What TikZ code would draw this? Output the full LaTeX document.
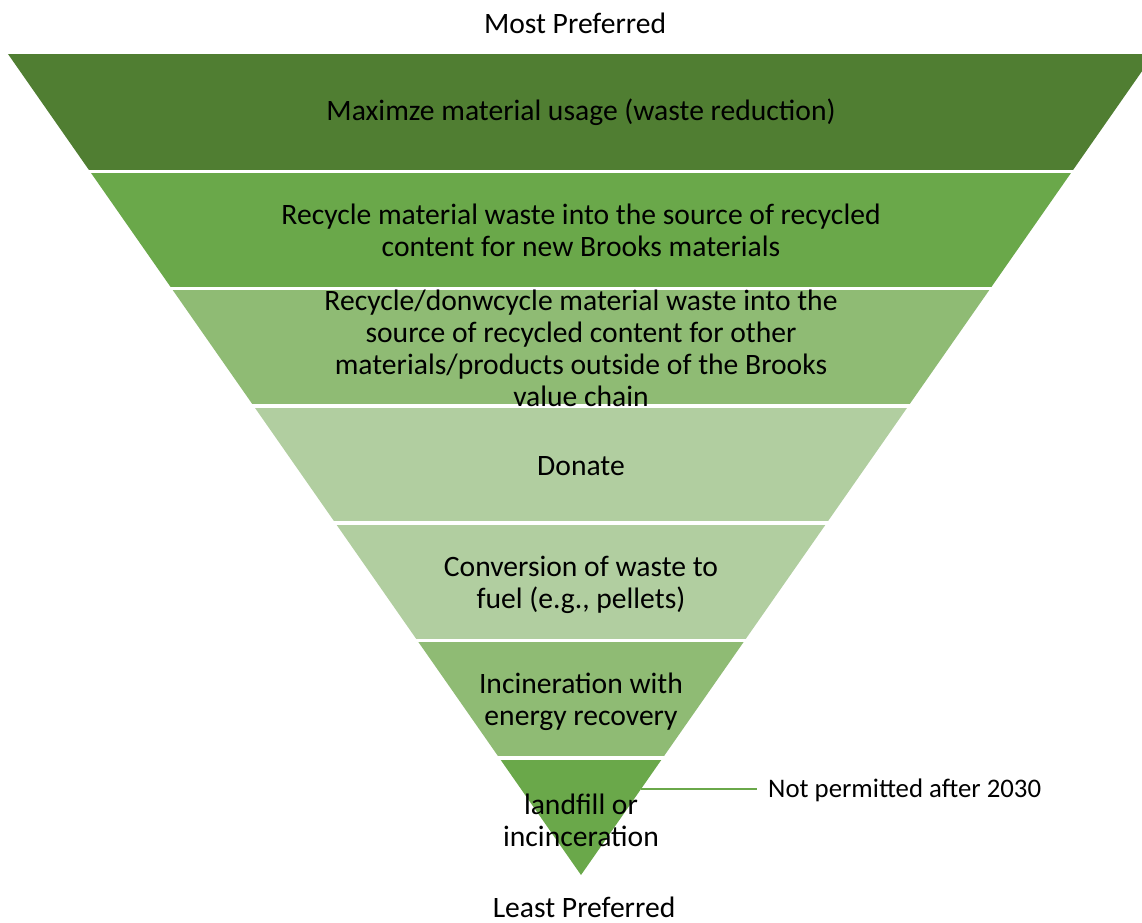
\documentclass[tikz,border=0pt]{standalone}
\usepackage{fontspec}
\setmainfont{Carlito}
\usepackage{xcolor}
\usetikzlibrary{calc}

\definecolor{bandA}{HTML}{507E32}
\definecolor{bandB}{HTML}{6AA84A}
\definecolor{bandC}{HTML}{8FBB74}
\definecolor{bandD}{HTML}{B1CEA0}

\begin{document}
\begin{tikzpicture}[x=1pt, y=-1pt,
    bandtext/.style={font=\fontsize{29.6}{32}\selectfont, align=center, inner sep=0pt},
    notetext/.style={font=\fontsize{26.8}{30}\selectfont, inner sep=0pt}]
    \useasboundingbox (0,0) rectangle (1142,922);
    \begin{scope}
        \clip (0,0) rectangle (1142,922);
        \foreach \i/\col in {0/bandA, 1/bandB, 2/bandC, 3/bandD, 4/bandD, 5/bandC, 6/bandB} {
            \pgfmathsetmacro\ya{54+117.29*\i}
            \pgfmathsetmacro\yb{\ya+117.29}
            \pgfmathsetmacro\wa{0.69793*(875-\ya)}
            \pgfmathsetmacro\wb{0.69793*(875-\yb)}
            \fill[color=\col] (581-\wa,\ya) -- (581+\wa,\ya) -- (581+\wb,\yb) -- (581-\wb,\yb) -- cycle;
        }
        % white gaps between the bands
        \foreach \i in {1,...,6} {
            \draw[white, line width=3.5pt] (0,54+117.29*\i) -- (1142,54+117.29*\i);
        }
    \end{scope}

    \node[bandtext] (most) at (575,23) {Most Preferred};
    \node[bandtext] (reduce) at (581,112) {Maximze material usage (waste reduction)};
    \node[bandtext] (recycle) at (581,230) {Recycle material waste into the source of recycled\\content for new Brooks materials};
    \node[bandtext] (downcycle) at (581,348) {Recycle/donwcycle material waste into the\\source of recycled content for other\\materials/products outside of the Brooks\\value chain};
    \node[bandtext] (donate) at (581,466) {Donate};
    \node[bandtext] (fuel) at (581,585) {Conversion of waste to\\fuel (e.g., pellets)};
    \node[bandtext] (energy) at (581,702) {Incineration with\\energy recovery};
    \node[bandtext] (landfill) at (581,820) {landfill or\\incinceration};
    \node[bandtext] (least) at (584,907) {Least Preferred};

    \coordinate (edge) at (641,789);
    \node[notetext, anchor=west] (note) at (768,790) {Not permitted after 2030};
    \draw[bandB, line width=1.3pt] (edge) -- ($(note.west)+(-11,-1)$);
\end{tikzpicture}
\end{document}
